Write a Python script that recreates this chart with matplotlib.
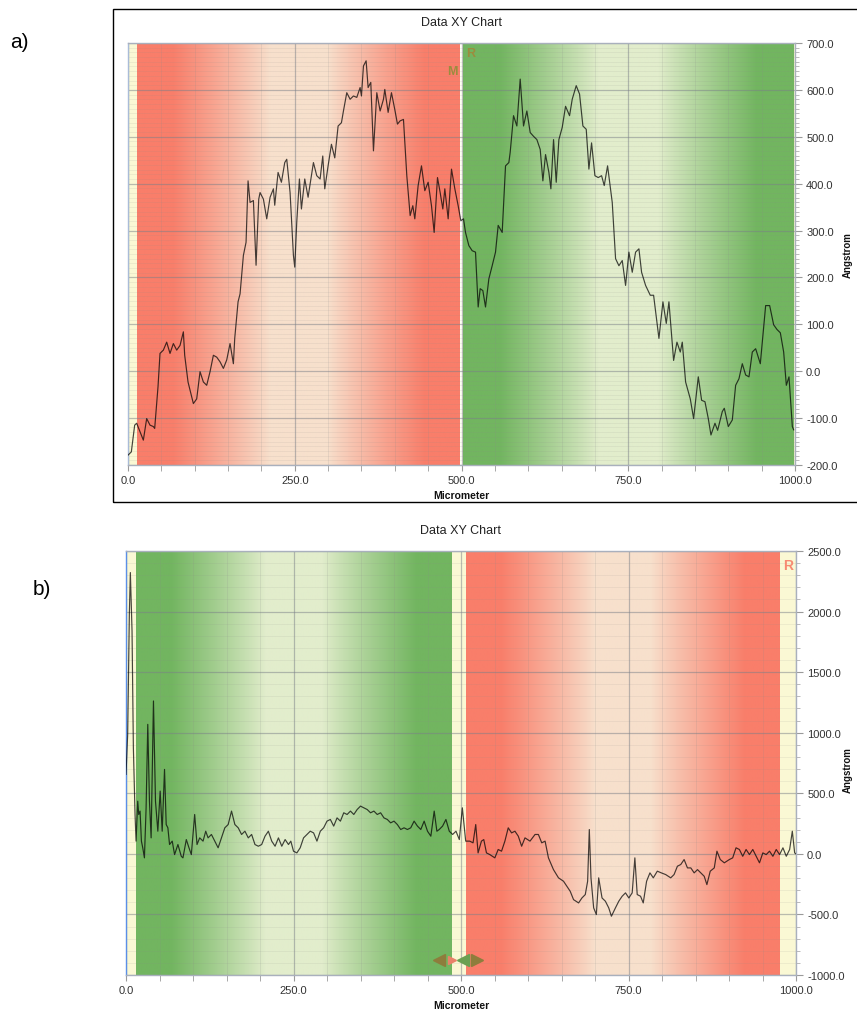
import numpy as np
import matplotlib
matplotlib.use('Agg')
import matplotlib.pyplot as plt
from matplotlib.ticker import MultipleLocator, FormatStrFormatter
from matplotlib.patches import Rectangle

plt.rcParams['font.family'] = ['Liberation Sans', 'DejaVu Sans']

# ---------------- data: panel a ----------------
a_x = [0, 5, 10, 13, 18, 23, 28, 33, 38, 40, 45, 48, 53, 58, 63, 68, 73, 78, 83, 85,
       90, 98, 103, 108, 113, 118, 123, 128, 133, 138, 143, 148, 153, 158, 160, 165, 168,
       173, 177, 180, 183, 188, 192, 196, 198, 203, 208, 213, 218, 220, 225, 230, 235,
       238, 243, 248, 250, 253, 257, 260, 265, 270, 275, 278, 283, 288, 292, 295, 300,
       305, 310, 315, 320, 323, 328, 333, 338, 343, 348, 350, 353, 357, 360, 364, 368,
       373, 378, 383, 385, 390, 395, 400, 404, 408, 413, 418, 423, 427, 430, 435, 440,
       445, 450, 455, 459, 464, 468, 472, 475, 480, 485, 490, 495, 499,
       503, 506, 511, 516, 521, 525, 528, 532, 536, 541, 546, 551, 555, 561, 566, 571,
       573, 578, 583, 588, 593, 598, 603, 608, 613, 618, 622, 626, 631, 634, 638, 642,
       646, 651, 656, 662, 666, 672, 677, 682, 687, 691, 695, 700, 705, 710, 714, 719,
       726, 731, 736, 741, 746, 751, 756, 761, 766, 770, 776, 783, 788, 796, 802, 807,
       811, 818, 823, 828, 831, 836, 843, 848, 855, 860, 865, 870, 874, 880, 884, 891,
       894, 900, 906, 911, 916, 921, 926, 931, 936, 941, 948, 956, 962, 968, 973, 978,
       983, 987, 991, 996, 998]
a_y = [-179, -172, -115, -111, -129, -147, -101, -115, -118, -122, -33, 38, 45, 62, 38, 59,
       45, 55, 84, 34, -23, -69, -59, -1, -23, -30, -1, 34, 30, 20, 6, 24, 59, 16, 70,
       148, 165, 247, 275, 406, 360, 364, 226, 367, 381, 367, 325, 371, 389, 354, 424,
       403, 445, 452, 381, 247, 222, 318, 410, 346, 410, 371, 417, 445, 417, 410, 459,
       389, 438, 484, 455, 523, 530, 555, 594, 580, 587, 584, 605, 587, 651, 662, 605,
       616, 470, 594, 555, 580, 601, 552, 594, 558, 527, 534, 537, 417, 332, 353, 325,
       396, 438, 385, 403, 353, 296, 413, 381, 346, 389, 325, 431, 389, 353, 321,
       325, 296, 268, 257, 254, 137, 176, 172, 137, 197, 225, 254, 311, 296, 438, 445,
       467, 545, 523, 623, 523, 555, 509, 501, 494, 473, 406, 462, 424, 389, 494, 403,
       494, 520, 565, 545, 580, 609, 591, 523, 516, 431, 487, 417, 413, 417, 396, 438,
       360, 240, 225, 236, 183, 254, 211, 254, 261, 211, 183, 162, 162, 70, 148, 102,
       148, 23, 62, 41, 62, -23, -59, -101, -12, -62, -65, -101, -136, -111, -126, -86,
       -79, -118, -104, -30, -16, 16, -8, -12, 41, 48, 16, 140, 140, 99, 89, 82,
       41, -30, -12, -118, -125]

# ---------------- data: panel b ----------------
b_x = [0, 2.5, 5, 6.5, 9, 11, 13.5, 15, 17.5, 19, 21, 23, 25, 27.5, 30, 32.5, 35, 37.5,
       41, 44, 47.5, 51, 54, 57.5, 60, 62.5, 65, 69, 72.5, 77.5, 82.5, 85, 90, 94, 97.5,
       102.5, 106, 110, 115, 119, 122.5, 127.5, 132.5, 137.5, 142.5, 147.5, 152.5, 157.5,
       162.5, 167.5, 172.5, 177.5, 182.5, 187.5, 192.5, 197.5, 202.5, 207.5, 212.5, 217.5,
       222.5, 227.5, 232.5, 237.5, 242.5, 246, 250, 255, 260, 265, 270, 275, 280, 285,
       290, 295, 300, 305, 310, 315, 320, 325, 330, 335, 340, 345, 350, 355, 360, 365,
       370, 375, 380, 385, 390, 395, 400, 405, 410, 415, 420, 425, 430, 435, 440, 445,
       450, 455, 460, 464, 467.5, 472.5, 477.5, 482.5, 487.5, 492.5, 497.5, 502, 507,
       513, 518, 522, 525.5, 530.5, 534, 538, 543, 550.5, 555.5, 560.5, 565.5, 570.5,
       575.5, 580.5, 585.5, 590.5, 595.5, 603, 610.5, 615.5, 620.5, 625.5, 630.5, 638,
       645.5, 653, 658, 663, 668, 675.5, 680.5, 685.5, 689, 691.5, 694, 698, 702, 705.5,
       710.5, 715.5, 720.5, 724.5, 730.5, 735.5, 740.5, 745.5, 750.5, 755.5, 759.5, 763,
       768, 772, 777, 782, 787, 793, 799, 805.5, 813, 818, 823, 828, 833, 838, 843, 848,
       853, 858, 863, 867, 872, 878, 882, 887, 893, 900.5, 905.5, 910.5, 915.5, 920.5,
       925.5, 930.5, 935.5, 940.5, 945.5, 950.5, 955.5, 960.5, 965.5, 970.5, 975.5,
       980.5, 985.5, 990.5, 994.5, 998, 1000]
b_y = [656, 986, 1978, 2322, 1840, 876, 325, 105, 435, 325, 353, 105, 50, -33, 380, 1069,
       435, 132, 1262, 435, 187, 518, 187, 697, 242, 215, 77, 105, -6, 77, -20, -33, 118,
       50, -6, 325, 77, 132, 105, 187, 132, 160, 105, 50, 132, 215, 242, 353, 242, 215,
       160, 187, 132, 160, 77, 63, 77, 146, 187, 105, 63, 132, 63, 118, 77, 105, 22, 8,
       50, 132, 160, 187, 173, 105, 187, 215, 270, 284, 229, 297, 270, 339, 325, 353,
       325, 366, 394, 380, 366, 339, 353, 325, 339, 297, 284, 256, 270, 242, 201, 215,
       201, 215, 270, 229, 201, 270, 187, 146, 353, 187, 201, 229, 284, 187, 160, 187,
       118, 380, 105, 105, 91, 242, 8, 105, 118, 8, -6, -33, 36, 22, 105, 215, 173, 187,
       146, 63, 132, 105, 160, 160, 91, 105, -33, -130, -198, -226, -267, -309, -378,
       -405, -364, -336, -226, 201, -198, -446, -501, -198, -364, -391, -446, -515, -446,
       -391, -350, -322, -364, -322, -33, -336, -350, -405, -226, -157, -198, -143, -157,
       -171, -198, -171, -102, -88, -47, -116, -116, -157, -130, -157, -185, -254, -143,
       -116, 22, -47, -74, -47, -33, 50, 36, -20, 36, -6, 36, -20, -74, 8, -6, 22, -20,
       36, -6, 50, -20, 36, 187, 8, 0]

x_ticks = [0.0, 250.0, 500.0, 750.0, 1000.0]
a_yticks = [-200.0, -100.0, 0.0, 100.0, 200.0, 300.0, 400.0, 500.0, 600.0, 700.0]
b_yticks = [-1000.0, -500.0, 0.0, 500.0, 1000.0, 1500.0, 2000.0, 2500.0]

title_text = "Data XY Chart"
x_label = "Micrometer"
y_label = "Angstrom"

# ---------------- styling ----------------
W, H = 857, 1012
fig = plt.figure(figsize=(W / 100, H / 100), dpi=100)

RED_DARK = np.array([249, 126, 106]) / 255
RED_LIGHT = np.array([247, 224, 204]) / 255
GREEN_DARK = np.array([114, 181, 96]) / 255
GREEN_LIGHT = np.array([226, 237, 204]) / 255
CREAM = '#FAF8D4'


def band(ax, x0, x1, dark, light, ylim):
    n = 500
    s = np.linspace(0, 1, n)
    u = np.abs(s - 0.5) * 2
    t = np.clip((u - 0.18) / 0.6, 0, 1)
    t = t ** 0.9
    rgb = light[None, :] * (1 - t[:, None]) + dark[None, :] * t[:, None]
    ax.imshow(rgb[None, :, :], extent=(x0, x1, ylim[0], ylim[1]), aspect='auto',
              zorder=0.2, interpolation='bilinear')


def fig_axes(left, top, right, bottom):
    return fig.add_axes([left / W, 1 - bottom / H, (right - left) / W, (bottom - top) / H])


def style_axes(ax, ylim, yminor, yticks, left_color):
    ax.set_facecolor(CREAM)
    ax.set_xlim(0, 1000)
    ax.set_ylim(*ylim)
    ax.set_xticks(x_ticks)
    ax.xaxis.set_minor_locator(MultipleLocator(50))
    ax.set_yticks(yticks)
    ax.yaxis.set_minor_locator(MultipleLocator(yminor))
    ax.xaxis.set_major_formatter(FormatStrFormatter('%.1f'))
    ax.yaxis.set_major_formatter(FormatStrFormatter('%.1f'))
    ax.yaxis.tick_right()
    ax.grid(which='major', color='#7a7f88', alpha=0.5, lw=0.9)
    ax.grid(which='minor', axis='x', color='#8a8a8a', alpha=0.16, lw=0.7)
    ax.grid(which='minor', axis='y', color='#8a8a8a', alpha=0.13, lw=0.6)
    ax.tick_params(axis='y', which='major', length=5, color='#9a9a9a', labelsize=8,
                   labelcolor='#333333', pad=3)
    ax.tick_params(axis='y', which='minor', length=3, color='#b0b0b0')
    ax.tick_params(axis='x', which='both', length=4, color='#9a9a9a', labelsize=8,
                   labelcolor='#333333', pad=3)
    for sp in ['top', 'right', 'bottom']:
        ax.spines[sp].set_color('#a9b0bd')
        ax.spines[sp].set_linewidth(1.0)
    ax.spines['left'].set_color(left_color)
    ax.spines['left'].set_linewidth(1.0)
    ax.text(0.5, 1.05, title_text, transform=ax.transAxes, ha='center', va='center',
            fontsize=9, color='#222222')
    ax.text(0.5, -0.071, x_label, transform=ax.transAxes, ha='center', va='center',
            fontsize=7.5, fontweight='bold', color='#111111')


# ---------------- panel a ----------------
ax_a = fig_axes(128, 44, 795, 466)
ylim_a = (-200, 700)
band(ax_a, 13, 497.5, RED_DARK, RED_LIGHT, ylim_a)
band(ax_a, 502, 997, GREEN_DARK, GREEN_LIGHT, ylim_a)
ax_a.axvspan(497.5, 502, color='#FFFFF4', zorder=0.3, lw=0)
style_axes(ax_a, ylim_a, 10, a_yticks, '#a9bcd8')
ax_a.plot(a_x, a_y, color='black', lw=0.85, alpha=0.72, zorder=3)
ax_a.text(486, 640, 'M', color='#9c8c3e', fontsize=9, fontweight='bold', ha='center', va='center', zorder=4)
ax_a.text(514, 678, 'R', color='#9c8c3e', fontsize=9, fontweight='bold', ha='center', va='center', zorder=4)

# frame around panel a
fig.add_artist(Rectangle((113 / W, 1 - 503 / H), 1.0, (503 - 10) / H, transform=fig.transFigure,
                         fill=False, edgecolor='black', lw=1.0))
fig.text(843 / W, 1 - 255 / H, y_label, rotation=90, ha='left', va='center', fontsize=7,
         fontweight='bold', color='#111111')
fig.text(10 / W, 1 - 42 / H, 'a)', fontsize=15, ha='left', va='center')

# ---------------- panel b ----------------
ax_b = fig_axes(126, 552, 796, 976)
ylim_b = (-1000, 2500)
band(ax_b, 15, 486, GREEN_DARK, GREEN_LIGHT, ylim_b)
band(ax_b, 507, 975, RED_DARK, RED_LIGHT, ylim_b)
style_axes(ax_b, ylim_b, 100, b_yticks, '#5b8fe8')
ax_b.plot(b_x, b_y, color='black', lw=0.85, alpha=0.72, zorder=3)
ax_b.text(988, 2385, 'R', color='#f78a72', fontsize=10, fontweight='bold', ha='center', va='center', zorder=4)
ax_b.plot([467], [-880], marker='<', ms=8, color='#8e7d3c', zorder=4, clip_on=False)
ax_b.plot([487], [-880], marker='>', ms=6, color='#e9826a', zorder=4, clip_on=False)
ax_b.plot([503], [-880], marker='<', ms=8, color='#6aa052', zorder=4, clip_on=False)
ax_b.plot([524], [-880], marker='>', ms=8, color='#8e7d3c', zorder=4, clip_on=False)
fig.text(843 / W, 1 - 770 / H, y_label, rotation=90, ha='left', va='center', fontsize=7,
         fontweight='bold', color='#111111')
fig.text(33 / W, 1 - 590 / H, 'b)', fontsize=15, ha='left', va='center')

fig.savefig('out.png', dpi=100)
